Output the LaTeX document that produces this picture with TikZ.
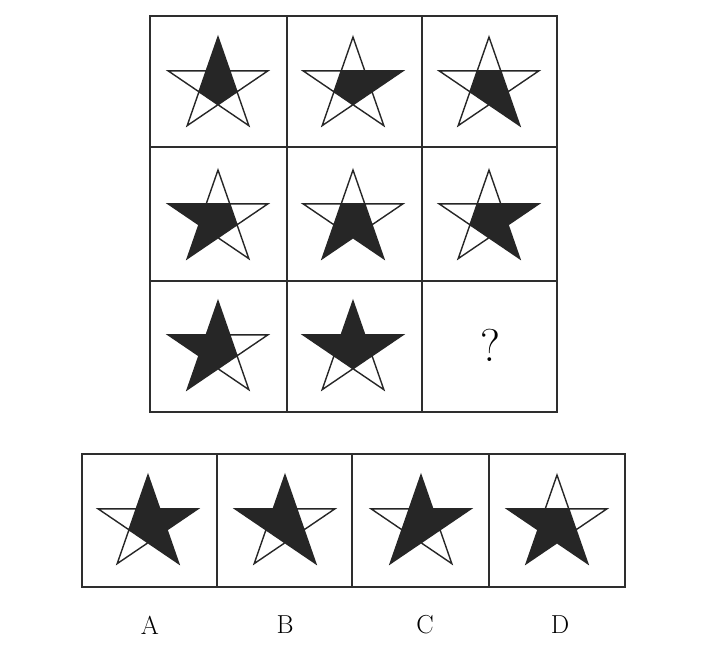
\documentclass[tikz,border=0pt]{standalone}
\usepackage{tikz}
\tikzset{
  gridline/.style={draw=black!82, line width=2.3pt},
  starfill/.style={fill=black!85},
  starline/.style={draw=black!85, line width=1.4pt, line join=miter},
  lbl/.style={font=\fontsize{26}{30}\selectfont, inner sep=0pt},
}
\newcommand\Rr{49}
\newcommand\ri{18.7}
\newcommand\drawstar[3]{%
  \begin{scope}[shift={(#1,#2)},yscale=-1,xscale=1.07]
    \foreach \k in {0,...,4}{%
      \coordinate (o\k) at ({90-72*\k}:\Rr);
      \coordinate (i\k) at ({54-72*\k}:\ri);
    }
    \fill[starfill] (i0)--(i1)--(i2)--(i3)--(i4)--cycle;
    \foreach \k in {#3}{%
      \pgfmathtruncatemacro\km{mod(\k+4,5)}
      \fill[starfill] (o\k)--(i\k)--(i\km)--cycle;
    }
    \draw[starline] (o0)--(o2)--(o4)--(o1)--(o3)--cycle;
  \end{scope}}
\begin{document}
\begin{tikzpicture}[x=1pt,y=-1pt]
  \useasboundingbox (0,0) rectangle (717,646);
  \fill[white] (0,0) rectangle (717,646);
  % main grid
  \draw[gridline] (150,16) rectangle (557,412);
  \draw[gridline] (287,16) -- (287,412);
  \draw[gridline] (422,16) -- (422,412);
  \draw[gridline] (150,147) -- (557,147);
  \draw[gridline] (150,281) -- (557,281);
  % option row
  \draw[gridline] (82,454) rectangle (625,587);
  \draw[gridline] (217,454) -- (217,587);
  \draw[gridline] (352,454) -- (352,587);
  \draw[gridline] (489,454) -- (489,587);
  % stars: 0=top,1=right,2=bottom-right,3=bottom-left,4=left
  \drawstar{218}{86}{0}
  \drawstar{353}{86}{1}
  \drawstar{489}{86}{2}
  \drawstar{218}{219}{4,3}
  \drawstar{353}{219}{3,2}
  \drawstar{489}{219}{1,2}
  \drawstar{218}{350}{0,4,3}
  \drawstar{353}{350}{0,4,1}
  \drawstar{148}{524}{0,1,2}
  \drawstar{285}{524}{0,4,2}
  \drawstar{421}{524}{0,1,3}
  \drawstar{557}{524}{4,3,2}
  \node[font=\fontsize{46}{50}\selectfont] (q) at (490,345) {?};
  \node[lbl] (la) at (150,625) {A};
  \node[lbl] (lb) at (285,625) {B};
  \node[lbl] (lc) at (425,625) {C};
  \node[lbl] (ld) at (560,625) {D};
\end{tikzpicture}
\end{document}
